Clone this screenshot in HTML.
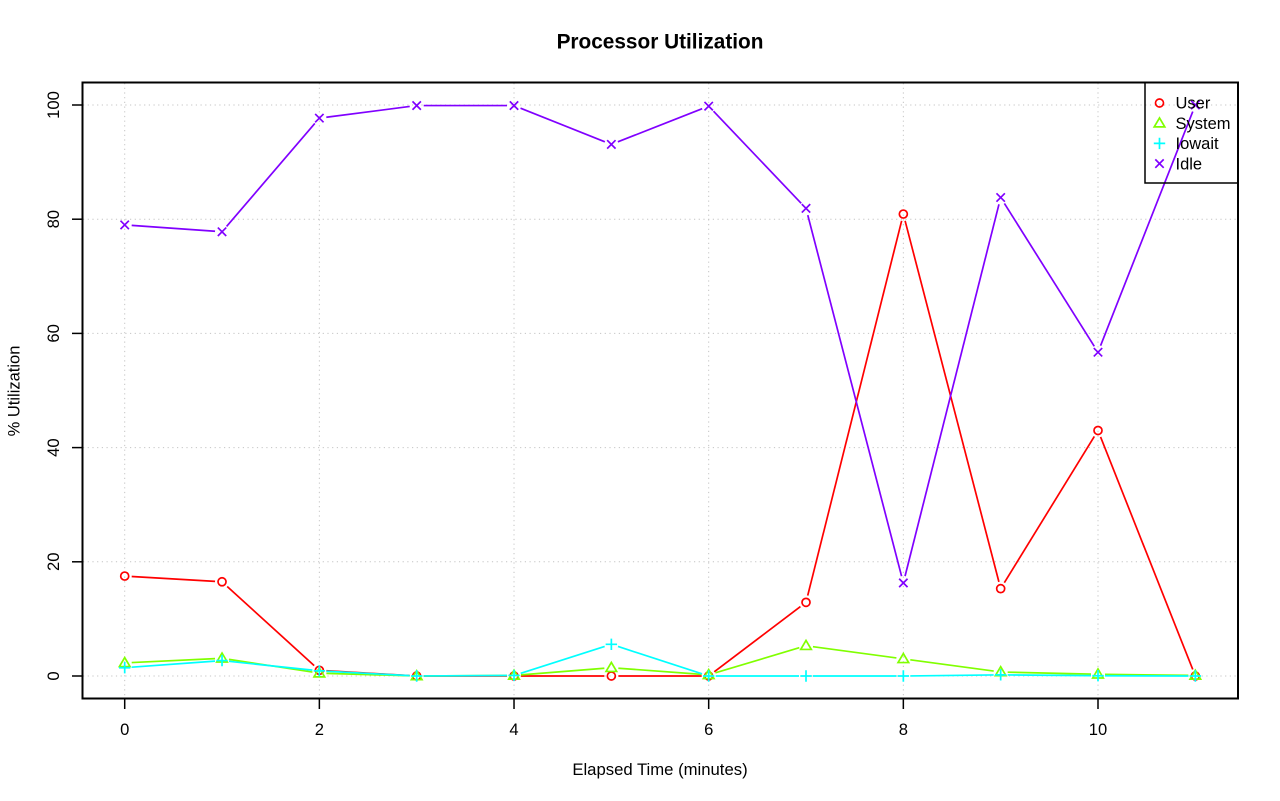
<!DOCTYPE html>
<html>
<head>
<meta charset="utf-8">
<style>
html,body{margin:0;padding:0;background:#fff;}
svg{display:block;font-family:"Liberation Sans",Arial,sans-serif;}
</style>
</head>
<body>
<svg id="c" xmlns="http://www.w3.org/2000/svg" width="1280" height="801" viewBox="0 0 1280 801">
<rect width="1280" height="801" fill="#fff"/>
<g id="grid" stroke="#c4c4c4" stroke-width="1" stroke-dasharray="1.2 3.5" fill="none"></g>
<g id="series"></g>
<rect x="82.5" y="82.5" width="1155.5" height="616" fill="none" stroke="#000" stroke-width="2"/>
<g id="axes" stroke="#000" stroke-width="1.5"></g>
<g id="labels" font-size="16.6" fill="#000"></g>
<text x="660" y="48.5" text-anchor="middle" font-size="20.8" font-weight="bold">Processor Utilization</text>
<text x="660" y="775" text-anchor="middle" font-size="16.7">Elapsed Time (minutes)</text>
<text transform="translate(19.5,391) rotate(-90)" text-anchor="middle" font-size="16.5">% Utilization</text>
<!-- legend -->
<rect x="1145" y="82.5" width="93" height="100.5" fill="none" stroke="#000" stroke-width="1.5"/>
<g id="legend" font-size="16.5"></g>
</svg>
<script>
var NS="http://www.w3.org/2000/svg";
function X(i){return 124.7+i*97.33;}
function Y(v){return 676-v*5.71;}
function el(tag,attrs,parent,text){var e=document.createElementNS(NS,tag);for(var k in attrs)e.setAttribute(k,attrs[k]);if(text!==undefined)e.textContent=text;parent.appendChild(e);return e;}
var grid=document.getElementById('grid');
for(var i=0;i<=10;i+=2){el('line',{x1:X(i),y1:83,x2:X(i),y2:698},grid);}
for(var v=0;v<=100;v+=20){el('line',{x1:83,y1:Y(v),x2:1237,y2:Y(v)},grid);}
var axes=document.getElementById('axes'),labels=document.getElementById('labels');
for(var i=0;i<=10;i+=2){el('line',{x1:X(i),y1:699,x2:X(i),y2:709},axes);el('text',{x:X(i),y:735,'text-anchor':'middle'},labels,String(i));}
for(var v=0;v<=100;v+=20){el('line',{x1:72,y1:Y(v),x2:82,y2:Y(v)},axes);el('text',{transform:'translate(59,'+Y(v)+') rotate(-90)','text-anchor':'middle'},labels,String(v));}
var data=[
 {c:'#FF0000',p:'o',d:[17.5,16.5,1.0,0,0,0,0,12.9,80.9,15.3,43.0,0]},
 {c:'#80FF00',p:'t',d:[2.3,3.1,0.5,0,0.1,1.45,0.2,5.3,3.0,0.7,0.3,0.1]},
 {c:'#00FFFF',p:'+',d:[1.45,2.7,0.9,0,0.1,5.55,0,0,0,0.2,0.05,0]},
 {c:'#8000FF',p:'x',d:[79.0,77.8,97.7,99.9,99.9,93.1,99.8,81.9,16.3,83.8,56.7,100]}
];
var sg=document.getElementById('series');
function pch(type,x,y,c,g){
 var a={stroke:c,'stroke-width':1.7,fill:'none'};
 if(type==='o'){a.cx=x;a.cy=y;a.r=4;el('circle',a,g);}
 else if(type==='t'){a.points=(x)+','+(y-5.3)+' '+(x-5.3)+','+(y+3.7)+' '+(x+5.3)+','+(y+3.7);el('polygon',a,g);}
 else if(type==='+'){a.d='M'+(x-5.7)+','+y+'H'+(x+5.7)+'M'+x+','+(y-5.7)+'V'+(y+5.7);el('path',a,g);}
 else if(type==='x'){a.d='M'+(x-4.2)+','+(y-4.2)+'L'+(x+4.2)+','+(y+4.2)+'M'+(x-4.2)+','+(y+4.2)+'L'+(x+4.2)+','+(y-4.2);el('path',a,g);}
}
var gap=7;
data.forEach(function(s){
 var g=el('g',{},sg);
 for(var i=0;i<s.d.length-1;i++){
  var x1=X(i),y1=Y(s.d[i]),x2=X(i+1),y2=Y(s.d[i+1]);
  var dx=x2-x1,dy=y2-y1,L=Math.sqrt(dx*dx+dy*dy);
  if(L>2*gap){var ux=dx/L,uy=dy/L;
   el('line',{x1:x1+ux*gap,y1:y1+uy*gap,x2:x2-ux*gap,y2:y2-uy*gap,stroke:s.c,'stroke-width':1.7},g);}
 }
 for(var i=0;i<s.d.length;i++)pch(s.p,X(i),Y(s.d[i]),s.c,g);
});
var lg=document.getElementById('legend');
var names=['User','System','Iowait','Idle'];
for(var k=0;k<4;k++){var yy=103+k*20.2;pch(data[k].p,1159.5,yy,data[k].c,lg);el('text',{x:1175.5,y:yy+5.7},lg,names[k]);}
</script>
</body>
</html>
